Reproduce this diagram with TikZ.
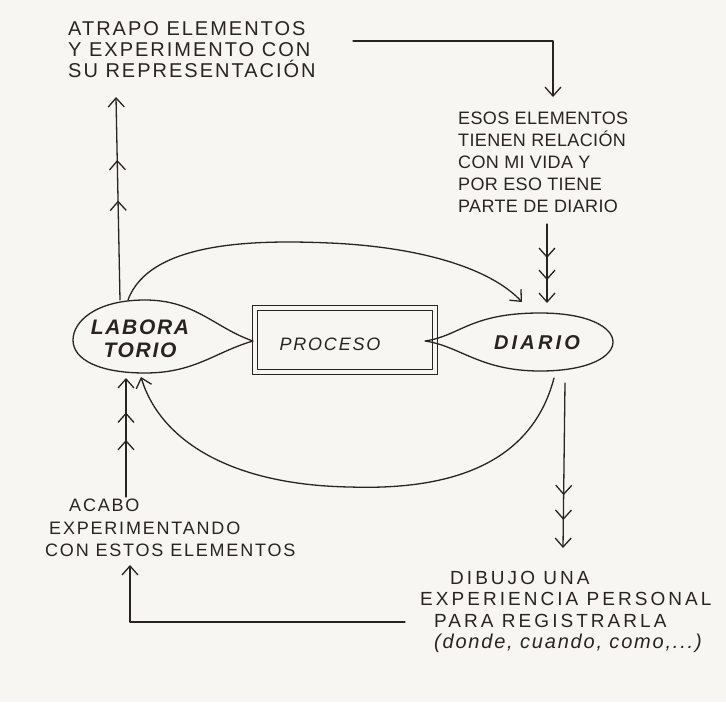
\documentclass[tikz,border=0pt]{standalone}
\usepackage{fontspec}
\setmainfont{Liberation Sans}
\usetikzlibrary{arrows.meta,decorations.markings,calc}
\definecolor{ink}{HTML}{2A2420}
\definecolor{paper}{HTML}{F8F6F3}
\newcommand\fontA{\fontsize{20}{21}\selectfont\addfontfeatures{LetterSpace=10}}
\newcommand\fontB{\fontsize{18}{22}\selectfont\addfontfeatures{LetterSpace=2}}
\newcommand\fontC{\fontsize{18}{22.5}\selectfont\addfontfeatures{LetterSpace=10}}
\newcommand\fontD{\fontsize{19}{21.5}\selectfont\addfontfeatures{LetterSpace=16}}
\newcommand\fontDl{\fontsize{20}{21.5}\selectfont\itshape\addfontfeatures{LetterSpace=9}}
\newcommand\fontE{\fontsize{21}{23}\selectfont\bfseries\itshape\addfontfeatures{LetterSpace=8}}
\newcommand\fontF{\fontsize{18}{20}\selectfont\itshape\addfontfeatures{LetterSpace=10}}
\newcommand\fontG{\fontsize{20}{22}\selectfont\bfseries\itshape\addfontfeatures{LetterSpace=16}}
\tikzset{
  inkline/.style={draw=ink, line width=1.3pt, line cap=round, line join=round},
  tipend/.style={-{Straight Barb[length=9pt,width=16pt,line width=1.3pt]}},
  lbl/.style={text=ink, inner sep=0pt, align=left},
  chevtwo/.style 2 args={postaction={decorate}, decoration={markings,
      mark=at position #1 with {\arrow{Straight Barb[length=9pt,width=16pt,line width=1.3pt]}},
      mark=at position #2 with {\arrow{Straight Barb[length=9pt,width=16pt,line width=1.3pt]}}}},
}
\begin{document}
\begin{tikzpicture}[x=1pt,y=-1pt]
\fill[paper] (0,0) rectangle (726,702);
\useasboundingbox (0,0) rectangle (726,702);

% text blocks
\node[lbl, anchor=west, font=\fontA] (t1) at (68,50)
  {ATRAPO ELEMENTOS\\Y EXPERIMENTO CON\\SU REPRESENTACIÓN};
\node[lbl, anchor=west, font=\fontB] (t2) at (458,162)
  {ESOS ELEMENTOS\\TIENEN RELACIÓN\\CON MI VIDA Y\\POR ESO TIENE\\PARTE DE DIARIO};
\node[lbl, anchor=west, font=\fontC] (t3) at (45,528)
  {\hspace*{24pt}ACABO\\\hspace*{4pt}EXPERIMENTANDO\\CON ESTOS ELEMENTOS};
\node[lbl, anchor=west, font=\fontD] (t4) at (420,612)
  {\hspace*{30pt}DIBUJO UNA\\EXPERIENCIA PERSONAL\\\hspace*{14pt}PARA REGISTRARLA\\\hspace*{14pt}{\fontDl (donde, cuando, como,...)}};

% PROCESO box (sketched double outline)
\node[minimum width=184pt, minimum height=68pt, inner sep=0pt] (proc) at (345,340) {};
\draw[inkline, line width=1.1pt] (proc.north west) rectangle (proc.south east);
\draw[inkline, line width=1.1pt] ([xshift=5pt,yshift=-5pt]proc.north west) rectangle ([xshift=-5pt,yshift=5pt]proc.south east);
\node[lbl, font=\fontF] (ptext) at (330,344) {PROCESO};

% LABORATORIO teardrop
\draw[inkline] (253,341) .. controls (215,328) and (195,300) .. (145,300)
   .. controls (95,300) and (73,322) .. (73,340)
   .. controls (73,360) and (100,373) .. (145,373)
   .. controls (195,373) and (215,352) .. (253,341);
\node[lbl, align=center, font=\fontE] (lab) at (140,339) {LABORA\\TORIO};

% DIARIO teardrop
\draw[inkline] (425,341) .. controls (460,336) and (470,313) .. (540,313)
   .. controls (590,313) and (613,328) .. (613,342)
   .. controls (613,356) and (590,371) .. (540,371)
   .. controls (480,371) and (460,346) .. (425,341);
\node[lbl, font=\fontG] (dia) at (537,343) {DIARIO};

% coordinates on shapes and texts
\coordinate (c1) at (353,41);
\coordinate (c2) at (553,97);
\coordinate (a2s) at (547,224);
\coordinate (a2e) at (547,303);
\coordinate (labtopA) at (120,300);
\coordinate (labtopB) at (128,300);
\coordinate (t1bot) at (116,97);
\coordinate (diatop) at (522,302);
\coordinate (diabot) at (554,378);
\coordinate (labbotA) at (141,377);
\coordinate (labbotB) at (126,378);
\coordinate (t3bot) at (126,497);
\coordinate (diabotB) at (565,383);
\coordinate (t4top) at (563,548);
\coordinate (c4) at (405,622);
\coordinate (c3) at (130,565);

% connectors
\draw[inkline, tipend] (c1) -| (c2);
\draw[inkline, tipend, chevtwo={0.43}{0.71}] (a2s) -- (a2e);
\draw[inkline, tipend] (labtopB) .. controls (150,240) and (260,240) .. (330,243)
   .. controls (420,247) and (490,268) .. (diatop);
\draw[inkline, tipend, chevtwo={0.49}{0.69}] (labtopA) -- (t1bot);
\draw[inkline, tipend] (diabot) .. controls (530,470) and (440,490) .. (350,487)
   .. controls (230,485) and (160,440) .. (labbotA);
\draw[inkline, tipend, chevtwo={0.48}{0.71}] (t3bot) -- (labbotB);
\draw[inkline, tipend, chevtwo={0.68}{0.83}] (diabotB) -- (t4top);
\draw[inkline, tipend] (c4) -| (c3);
\end{tikzpicture}
\end{document}
